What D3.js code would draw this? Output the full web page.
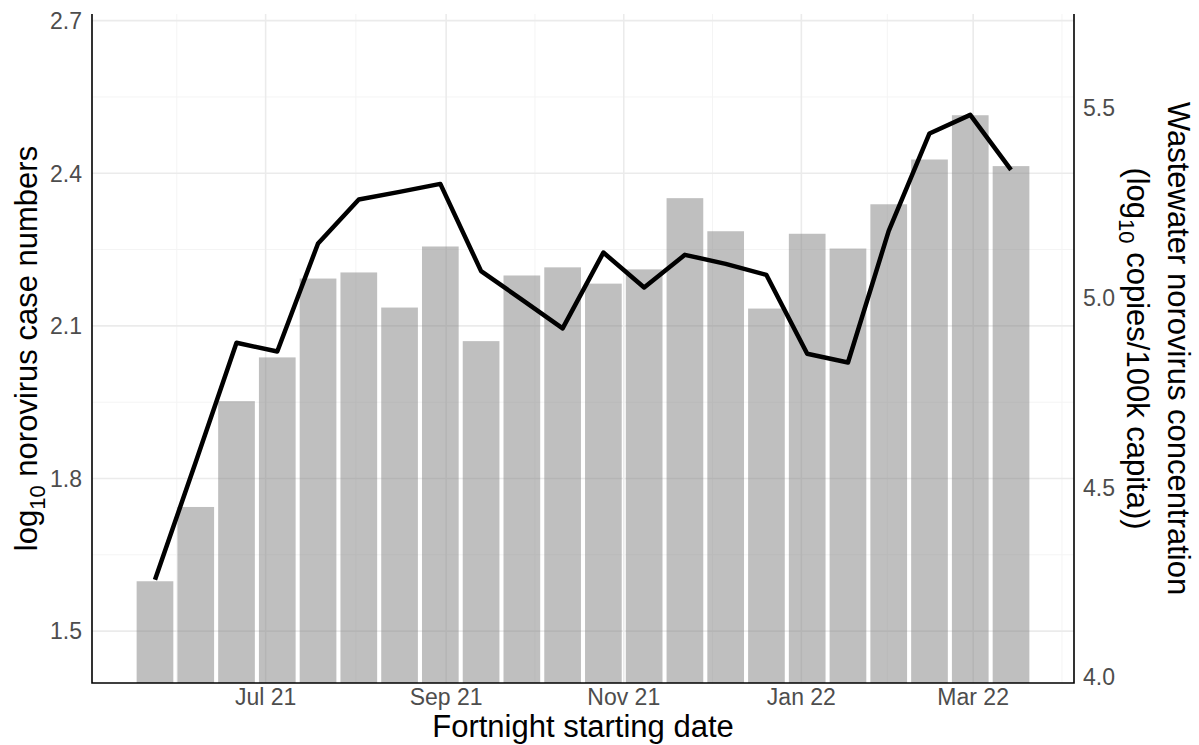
<!DOCTYPE html>
<html>
<head>
<meta charset="utf-8">
<script src="https://cdn.jsdelivr.net/npm/d3@7"></script>
<style>
    body { margin: 0; background: #fff; }
    svg { font-family: "Liberation Sans", Arial, sans-serif; }
    .grid-major { stroke: #ebebeb; stroke-width: 1.6; }
    .grid-minor { stroke: #f4f4f4; stroke-width: 1; }
    .bar { fill: #808080; fill-opacity: 0.5; }
    .ww-line { fill: none; stroke: #000; stroke-width: 4.5; stroke-linejoin: round; }
    .axis-line { stroke: #000; stroke-width: 1.6; fill: none; }
    .tick-label { fill: #4d4d4d; font-size: 23px; }
    .axis-title { fill: #000; font-size: 31px; }
</style>
</head>
<body>
<svg id="chart" width="1199" height="745"></svg>
<script>
/*
 Data
 */

var fortnights = ['2021-05-24', '2021-06-07', '2021-06-21', '2021-07-05', '2021-07-19', '2021-08-02',
    '2021-08-16', '2021-08-30', '2021-09-13', '2021-09-27', '2021-10-11', '2021-10-25',
    '2021-11-08', '2021-11-22', '2021-12-06', '2021-12-20', '2022-01-03', '2022-01-17',
    '2022-01-31', '2022-02-14', '2022-02-28', '2022-03-14'];

// log10 norovirus case numbers (bars, left axis)
var caseCounts = [1.598, 1.744, 1.952, 2.038, 2.193, 2.205, 2.136, 2.256, 2.070, 2.199, 2.215,
    2.183, 2.211, 2.351, 2.286, 2.134, 2.281, 2.252, 2.339, 2.427, 2.514, 2.414];

// log10 wastewater copies per 100k (line, right axis)
var wastewater = [4.256, 4.567, 4.881, 4.858, 5.143, 5.259, 5.279, 5.300, 5.070, 4.995, 4.919,
    5.119, 5.027, 5.113, 5.089, 5.060, 4.852, 4.829, 5.176, 5.433, 5.482, 5.337];

var caseTicks = [1.5, 1.8, 2.1, 2.4, 2.7];
var wwTicks = [4.0, 4.5, 5.0, 5.5];
var monthTicks = ['2021-07-01', '2021-09-01', '2021-11-01', '2022-01-01', '2022-03-01'];

var caseDomain = [1.398, 2.713];
var wwDomain = [3.984, 5.748];

/*
 Layout & scales
 */

var PANEL = {left: 92, right: 1074, top: 14, bottom: 683};
var DAY = 864e5;

var parse = d3.utcParse('%Y-%m-%d');
var dates = fortnights.map(parse);
var months = monthTicks.map(parse);

var rows = dates.map(function (d, i) {
    return {id: i, date: d, cases: caseCounts[i], ww: wastewater[i]};
});

// bars are 0.9 of the 14 day spacing, then 5% padding like ggplot
var halfBar = 14 * 0.9 / 2 * DAY;
var lo = +dates[0] - halfBar;
var hi = +dates[dates.length - 1] + halfBar;
var pad = (hi - lo) * 0.05;

var x = d3.scaleUtc()
    .domain([new Date(lo - pad), new Date(hi + pad)])
    .range([PANEL.left, PANEL.right]);

var yCases = d3.scaleLinear().domain(caseDomain).range([PANEL.bottom, PANEL.top]);
var yWW = d3.scaleLinear().domain(wwDomain).range([PANEL.bottom, PANEL.top]);

var barWidth = x(new Date(+dates[0] + halfBar)) - x(new Date(+dates[0] - halfBar));

var svg = d3.select('#chart');

/*
 Grid
 */

function midpoints(arr) {
    return d3.pairs(arr).map(function (p) {
        return (+p[0] + +p[1]) / 2;
    });
}

var minorY = midpoints(caseTicks).filter(function (v) {
    return v > caseDomain[0] && v < caseDomain[1];
});
var extMonths = [d3.utcMonth.offset(months[0], -2)].concat(months, [d3.utcMonth.offset(months[months.length - 1], 2)]);
var minorX = midpoints(extMonths).filter(function (t) {
    return t > +x.domain()[0] && t < +x.domain()[1];
});

var grid = svg.append('g').classed('grid', true);

grid.selectAll('.gy-minor')
    .data(minorY)
    .enter().append('line')
    .attr('class', 'grid-minor gy-minor')
    .attr('x1', PANEL.left).attr('x2', PANEL.right)
    .attr('y1', function (d) { return yCases(d); })
    .attr('y2', function (d) { return yCases(d); });

grid.selectAll('.gx-minor')
    .data(minorX)
    .enter().append('line')
    .attr('class', 'grid-minor gx-minor')
    .attr('y1', PANEL.top).attr('y2', PANEL.bottom)
    .attr('x1', function (d) { return x(new Date(d)); })
    .attr('x2', function (d) { return x(new Date(d)); });

grid.selectAll('.gy-major')
    .data(caseTicks)
    .enter().append('line')
    .attr('class', 'grid-major gy-major')
    .attr('x1', PANEL.left).attr('x2', PANEL.right)
    .attr('y1', function (d) { return yCases(d); })
    .attr('y2', function (d) { return yCases(d); });

grid.selectAll('.gx-major')
    .data(months)
    .enter().append('line')
    .attr('class', 'grid-major gx-major')
    .attr('y1', PANEL.top).attr('y2', PANEL.bottom)
    .attr('x1', function (d) { return x(d); })
    .attr('x2', function (d) { return x(d); });

/*
 Bars & line
 */

svg.append('g').selectAll('.bar')
    .data(rows, function (d) { return d.id; })
    .enter().append('rect')
    .classed('bar', true)
    .attr('x', function (d) { return x(d.date) - barWidth / 2; })
    .attr('width', barWidth)
    .attr('y', function (d) { return yCases(d.cases); })
    .attr('height', function (d) { return PANEL.bottom - yCases(d.cases); });

var line = d3.line()
    .x(function (d) { return x(d.date); })
    .y(function (d) { return yWW(d.ww); });

svg.append('path')
    .datum(rows)
    .classed('ww-line', true)
    .attr('d', line);

/*
 Axes
 */

svg.append('path')
    .classed('axis-line', true)
    .attr('d', 'M' + PANEL.left + ',' + PANEL.top + 'V' + PANEL.bottom + 'H' + PANEL.right + 'V' + PANEL.top);

svg.append('g').selectAll('text')
    .data(caseTicks)
    .enter().append('text')
    .classed('tick-label', true)
    .attr('x', PANEL.left - 10)
    .attr('y', function (d) { return yCases(d); })
    .attr('dy', '0.36em')
    .attr('text-anchor', 'end')
    .text(d3.format('.1f'));

svg.append('g').selectAll('text')
    .data(wwTicks)
    .enter().append('text')
    .classed('tick-label', true)
    .attr('x', PANEL.right + 9)
    .attr('y', function (d) { return yWW(d); })
    .attr('dy', '0.36em')
    .attr('text-anchor', 'start')
    .text(d3.format('.1f'));

svg.append('g').selectAll('text')
    .data(months)
    .enter().append('text')
    .classed('tick-label', true)
    .attr('x', function (d) { return x(d); })
    .attr('y', 705)
    .attr('text-anchor', 'middle')
    .text(d3.utcFormat('%b %y'));

/*
 Titles
 */

var midY = (PANEL.top + PANEL.bottom) / 2;

svg.append('text')
    .classed('axis-title', true)
    .attr('x', (PANEL.left + PANEL.right) / 2)
    .attr('y', 737)
    .attr('text-anchor', 'middle')
    .text('Fortnight starting date');

var leftTitle = svg.append('text')
    .classed('axis-title', true)
    .attr('text-anchor', 'middle')
    .attr('transform', 'translate(37,' + midY + ') rotate(-90)');
leftTitle.append('tspan').text('log');
leftTitle.append('tspan').attr('dy', 8).style('font-size', '22px').text('10');
leftTitle.append('tspan').attr('dy', -8).text(' norovirus case numbers');

svg.append('text')
    .classed('axis-title', true)
    .attr('text-anchor', 'middle')
    .attr('transform', 'translate(1168,' + midY + ') rotate(90)')
    .text('Wastewater norovirus concentration');

var rightTitle = svg.append('text')
    .classed('axis-title', true)
    .attr('text-anchor', 'middle')
    .attr('transform', 'translate(1127,' + midY + ') rotate(90)');
rightTitle.append('tspan').text('(log');
rightTitle.append('tspan').attr('dy', 8).style('font-size', '22px').text('10');
rightTitle.append('tspan').attr('dy', -8).text(' copies/100k capita))');
</script>
</body>
</html>
